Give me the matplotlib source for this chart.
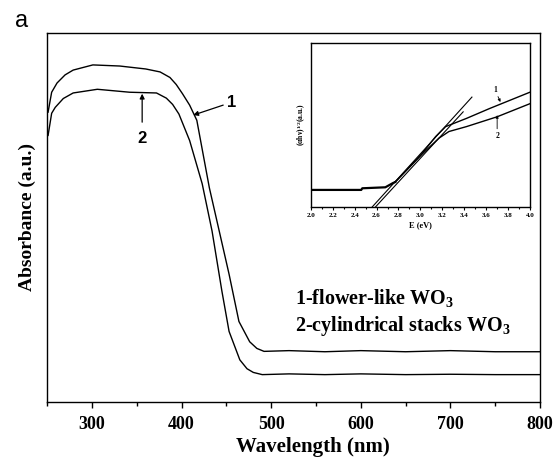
# UV-vis absorbance of the two WO3 samples, with the Tauc plot inset.

import numpy as np
import matplotlib
matplotlib.use('Agg')
import matplotlib.pyplot as plt
from matplotlib.ticker import MultipleLocator, FormatStrFormatter

plt.rcParams['font.family'] = 'Liberation Serif'
plt.rcParams['font.weight'] = 'bold'
plt.rcParams['mathtext.fontset'] = 'custom'
plt.rcParams['mathtext.rm'] = 'Liberation Serif:bold'
plt.rcParams['mathtext.it'] = 'Liberation Serif:bold'
plt.rcParams['mathtext.bf'] = 'Liberation Serif:bold'

# main spectra (wavelength in nm, absorbance in a.u.)
wl_1  = [251, 255, 261, 270, 279, 301, 331, 360, 376, 387, 394, 401, 409,
         417, 431, 442, 453, 464, 476, 484, 492, 520, 560, 600, 650, 700,
         750, 800]
abs_1 = [0.785, 0.839, 0.864, 0.886, 0.899, 0.913, 0.910, 0.902, 0.894,
         0.879, 0.860, 0.835, 0.804, 0.763, 0.580, 0.463, 0.346, 0.218,
         0.163, 0.145, 0.137, 0.139, 0.136, 0.139, 0.136, 0.139, 0.136,
         0.136]
wl_2  = [251, 255, 259, 268, 279, 306, 342, 372, 383, 390, 397, 409, 423,
         434, 445, 453, 465, 473, 480, 490, 520, 560, 600, 650, 700, 750,
         800]
abs_2 = [0.722, 0.782, 0.798, 0.822, 0.837, 0.847, 0.839, 0.837, 0.823,
         0.806, 0.780, 0.708, 0.591, 0.463, 0.300, 0.191, 0.114, 0.090,
         0.080, 0.074, 0.076, 0.074, 0.076, 0.074, 0.075, 0.074, 0.074]

# inset: Tauc plot (photon energy in eV, (ahv)^1/2 in a.u.)
e_flat   = [2.0, 2.46, 2.47, 2.68, 2.75, 2.77]
y_flat   = [0.104, 0.104, 0.114, 0.12, 0.146, 0.152]
e_tauc_1 = [2.77, 3.02, 3.14, 3.23, 3.42, 3.63, 4.0]
y_tauc_1 = [0.152, 0.33, 0.43, 0.49, 0.54, 0.60, 0.70]
e_tauc_2 = [2.77, 3.02, 3.17, 3.26, 3.42, 3.70, 4.0]
y_tauc_2 = [0.152, 0.325, 0.42, 0.46, 0.49, 0.55, 0.63]
e_fit_1  = [2.56, 3.47]
y_fit_1  = [0.0, 0.67]
e_fit_2  = [2.59, 3.39]
y_fit_2  = [0.0, 0.58]

# figure
fig = plt.figure(figsize=(5.55, 4.62), dpi=100)
ax = fig.add_axes([0.085, 0.130, 0.888, 0.799])

ax.plot(wl_1, abs_1, 'k', lw=1.0)
ax.plot(wl_2, abs_2, 'k', lw=1.0)
ax.set_xlim((250, 800))
ax.set_ylim((0, 1))
ax.xaxis.set_major_locator(MultipleLocator(100))
ax.xaxis.set_minor_locator(MultipleLocator(50))
ax.set_yticks([])
ax.tick_params(axis='x', which='major', direction='out', length=4, width=1,
               labelsize=13, pad=6)
ax.tick_params(axis='x', which='minor', direction='out', length=3, width=1)
for sp in ax.spines.values():
    sp.set_linewidth(1.0)
ax.set_xlabel('Wavelength (nm)', fontsize=15, fontweight='bold', labelpad=6)
ax.xaxis.set_label_coords(0.54, -0.095)
ax.set_ylabel('Absorbance (a.u.)', fontsize=14, fontweight='bold', labelpad=8)

# curve labels
ax.annotate('1', xy=(413, 0.777), xytext=(451, 0.812), fontsize=12,
            fontfamily='Liberation Sans', fontweight='bold', va='center',
            arrowprops=dict(arrowstyle='-|>', color='k', lw=0.9,
                            mutation_scale=7, shrinkA=1, shrinkB=0))
ax.annotate('2', xy=(356, 0.835), xytext=(356, 0.715), fontsize=12,
            fontfamily='Liberation Sans', fontweight='bold', ha='center',
            va='center',
            arrowprops=dict(arrowstyle='-|>', color='k', lw=0.9,
                            mutation_scale=7, shrinkA=4, shrinkB=0))

ax.text(0.503, 0.281, '1-flower-like WO$_3$', transform=ax.transAxes,
        fontsize=14.5, fontweight='bold', va='center')
ax.text(0.503, 0.205, '2-cylindrical stacks WO$_3$', transform=ax.transAxes,
        fontsize=14.5, fontweight='bold', va='center')

fig.text(0.027, 0.955, 'a', fontsize=17, fontfamily='Liberation Sans',
         fontweight='normal', va='center')

# inset
axi = fig.add_axes([0.560, 0.552, 0.395, 0.355])
axi.plot(e_flat, y_flat, 'k', lw=1.6)
axi.plot(e_tauc_1, y_tauc_1, 'k', lw=1.0)
axi.plot(e_tauc_2, y_tauc_2, 'k', lw=1.0)
axi.plot(e_fit_1, y_fit_1, 'k', lw=0.8)
axi.plot(e_fit_2, y_fit_2, 'k', lw=0.8)
axi.set_xlim((2.0, 4.0))
axi.set_ylim((0, 1))
axi.xaxis.set_major_locator(MultipleLocator(0.2))
axi.xaxis.set_minor_locator(MultipleLocator(0.1))
axi.set_yticks([])
axi.tick_params(axis='x', which='major', direction='out', length=2.5,
                width=0.8, labelsize=5, pad=2)
axi.tick_params(axis='x', which='minor', direction='out', length=1.5,
                width=0.8)
axi.xaxis.set_major_formatter(FormatStrFormatter('%.1f'))
for sp in axi.spines.values():
    sp.set_linewidth(1.0)
axi.set_xlabel('E (eV)', fontsize=6, fontweight='bold', labelpad=2)
axi.set_ylabel(r'($\alpha$h$\nu$)$^{1/2}$(a.u.)', fontsize=5.5,
               fontweight='bold', labelpad=2)

axi.annotate('1', xy=(3.73, 0.64), xytext=(3.68, 0.69), fontsize=5.5,
             fontweight='bold', ha='center', va='bottom',
             arrowprops=dict(arrowstyle='-|>', color='k', lw=0.6,
                             mutation_scale=4, shrinkA=0, shrinkB=0))
axi.annotate('2', xy=(3.70, 0.56), xytext=(3.70, 0.46), fontsize=5.5,
             fontweight='bold', ha='center', va='top',
             arrowprops=dict(arrowstyle='-|>', color='k', lw=0.6,
                             mutation_scale=4, shrinkA=0, shrinkB=0))

fig.savefig('out.png', dpi=100)
